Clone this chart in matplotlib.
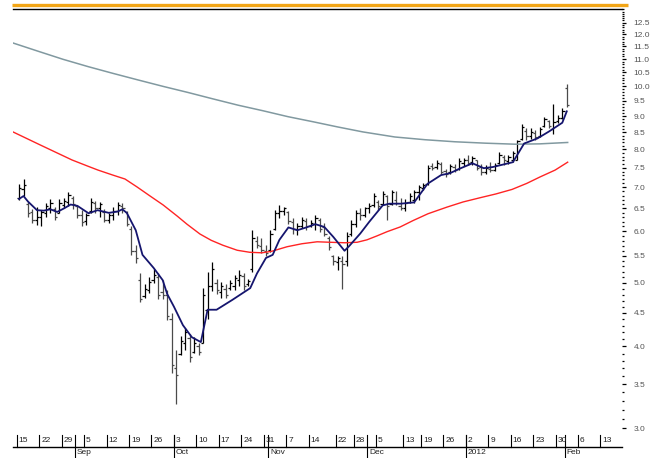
import numpy as np
import matplotlib
matplotlib.use("Agg")
import matplotlib.pyplot as plt
import matplotlib.transforms as mtransforms
from matplotlib.lines import Line2D
from matplotlib.ticker import FixedLocator, FixedFormatter, NullFormatter
from matplotlib import font_manager

names = {f.name for f in font_manager.fontManager.ttflist}
face = "Liberation Sans Narrow" if "Liberation Sans Narrow" in names else "Liberation Sans"
plt.rcParams["font.family"] = [face, "DejaVu Sans"]

# daily bars, one per weekday starting 15 Aug 2011
start = "2011-08-15"
opens = [6.75, 6.95, 6.60, 6.42, 6.25, 6.30, 6.40, 6.50, 6.48, 6.40,
         6.58, 6.65, 6.75, 6.55, 6.35, 6.22, 6.45, 6.62, 6.50, 6.42,
         6.25, 6.35, 6.45, 6.55, 6.42, 6.05, 5.60, 5.05, 4.78, 4.88,
         5.05, 5.10, 4.85, 4.80, 4.40, 3.70, 3.90, 4.05, 4.12, 3.92,
         4.00, 4.05, 4.55, 4.95, 5.00, 4.85, 4.90, 4.92, 4.95, 5.05,
         5.12, 4.98, 5.25, 5.80, 5.70, 5.60, 5.62, 6.05, 6.40, 6.45,
         6.42, 6.20, 6.05, 6.10, 6.22, 6.12, 6.15, 6.25, 6.08, 5.85,
         5.50, 5.38, 5.40, 5.40, 5.95, 6.15, 6.40, 6.35, 6.50, 6.58,
         6.65, 6.60, 6.78, 6.60, 6.70, 6.55, 6.50, 6.65, 6.70, 6.88,
         6.98, 7.08, 7.55, 7.52, 7.60, 7.42, 7.38, 7.52, 7.48, 7.62,
         7.72, 7.65, 7.70, 7.52, 7.40, 7.48, 7.45, 7.62, 7.80, 7.68,
         7.70, 7.72, 8.30, 8.55, 8.40, 8.48, 8.40, 8.70, 8.85, 8.60,
         8.85, 8.95, 9.95]
highs = [7.08, 7.20, 6.66, 6.48, 6.54, 6.46, 6.63, 6.71, 6.54, 6.71,
         6.74, 6.88, 6.79, 6.56, 6.46, 6.40, 6.74, 6.68, 6.66, 6.48,
         6.40, 6.54, 6.66, 6.62, 6.45, 6.12, 5.72, 5.17, 4.98, 5.11,
         5.26, 5.17, 5.05, 4.88, 4.50, 3.95, 4.15, 4.27, 4.18, 4.14,
         4.04, 4.91, 5.20, 5.39, 5.07, 5.01, 4.98, 5.05, 5.14, 5.23,
         5.17, 5.07, 6.03, 5.89, 5.85, 5.71, 6.02, 6.46, 6.58, 6.54,
         6.45, 6.28, 6.17, 6.31, 6.28, 6.24, 6.35, 6.28, 6.17, 5.89,
         5.52, 5.49, 5.49, 5.99, 6.24, 6.46, 6.50, 6.54, 6.62, 6.86,
         6.70, 6.90, 6.81, 6.94, 6.90, 6.74, 6.72, 6.86, 6.94, 7.06,
         7.10, 7.58, 7.64, 7.71, 7.66, 7.48, 7.61, 7.61, 7.75, 7.77,
         7.85, 7.83, 7.71, 7.61, 7.58, 7.66, 7.62, 7.94, 7.85, 7.85,
         7.96, 8.27, 8.75, 8.63, 8.63, 8.57, 8.67, 8.96, 8.87, 9.40,
         9.03, 9.25, 10.09]
lows = [6.70, 6.80, 6.31, 6.17, 6.13, 6.11, 6.31, 6.39, 6.24, 6.39,
        6.51, 6.56, 6.48, 6.28, 6.11, 6.13, 6.39, 6.39, 6.31, 6.19,
        6.17, 6.24, 6.35, 6.39, 6.10, 5.52, 5.36, 4.68, 4.74, 4.82,
        5.00, 4.73, 4.73, 4.39, 3.64, 3.27, 3.88, 3.95, 3.79, 3.91,
        3.88, 4.04, 4.40, 4.86, 4.81, 4.75, 4.74, 4.88, 4.88, 4.94,
        4.88, 4.94, 5.19, 5.65, 5.55, 5.49, 5.58, 6.02, 6.28, 6.35,
        6.15, 5.95, 5.92, 6.06, 6.02, 6.09, 6.02, 5.99, 5.89, 5.61,
        5.33, 5.23, 4.90, 5.30, 5.89, 6.09, 6.24, 6.31, 6.40, 6.54,
        6.46, 6.58, 6.24, 6.58, 6.58, 6.46, 6.44, 6.62, 6.62, 6.70,
        6.94, 7.06, 7.44, 7.48, 7.35, 7.27, 7.35, 7.40, 7.44, 7.55,
        7.57, 7.58, 7.44, 7.31, 7.35, 7.40, 7.42, 7.61, 7.57, 7.61,
        7.66, 7.71, 8.27, 8.27, 8.30, 8.27, 8.37, 8.67, 8.63, 8.46,
        8.78, 8.90, 9.30]
closes = [6.98, 7.05, 6.40, 6.25, 6.30, 6.42, 6.55, 6.62, 6.30, 6.62,
          6.68, 6.82, 6.60, 6.35, 6.20, 6.35, 6.65, 6.50, 6.60, 6.25,
          6.35, 6.45, 6.58, 6.50, 6.15, 5.60, 5.45, 4.72, 4.90, 5.02,
          5.15, 4.80, 4.80, 4.45, 3.75, 3.62, 4.08, 4.20, 3.85, 4.05,
          3.92, 4.80, 4.95, 5.25, 4.88, 4.95, 4.80, 5.00, 5.08, 5.15,
          4.95, 5.03, 5.85, 5.72, 5.62, 5.55, 5.95, 6.40, 6.45, 6.50,
          6.22, 6.05, 6.10, 6.25, 6.10, 6.18, 6.28, 6.05, 5.95, 5.68,
          5.40, 5.45, 5.35, 5.90, 6.15, 6.40, 6.35, 6.50, 6.55, 6.80,
          6.55, 6.85, 6.55, 6.88, 6.62, 6.50, 6.62, 6.80, 6.88, 7.00,
          7.05, 7.50, 7.50, 7.62, 7.40, 7.35, 7.55, 7.45, 7.68, 7.70,
          7.62, 7.75, 7.50, 7.40, 7.50, 7.45, 7.58, 7.85, 7.70, 7.78,
          7.90, 8.25, 8.65, 8.40, 8.50, 8.35, 8.60, 8.90, 8.70, 8.80,
          8.95, 9.15, 9.35]

# moving averages (x = sessions since start)
fast_at = [0, 1, 2, 4, 5.5, 7, 8.5, 10, 11.5, 13, 15.5, 17.5, 20, 22, 23, 24,
           26, 27.5, 30, 32, 33, 34.5, 36.5, 38.5, 40.5, 42, 44, 47.5, 51.5,
           53, 55, 56.5, 58, 60, 62, 64, 66, 68, 70, 72.5, 73.5, 76, 78, 81,
           82.5, 85, 88, 91, 94, 96, 98, 101, 103.5, 105.5, 110, 112.5, 115.5,
           118, 121, 122]
fast = [6.72, 6.79, 6.66, 6.46, 6.45, 6.48, 6.42, 6.50, 6.59, 6.56, 6.39,
        6.46, 6.40, 6.43, 6.48, 6.40, 6.02, 5.52, 5.27, 5.05, 4.81, 4.60,
        4.31, 4.13, 4.06, 4.55, 4.55, 4.71, 4.91, 5.17, 5.46, 5.52, 5.82,
        6.08, 6.02, 6.08, 6.15, 6.09, 5.88, 5.60, 5.69, 5.95, 6.20, 6.57,
        6.61, 6.61, 6.64, 7.09, 7.31, 7.36, 7.47, 7.62, 7.49, 7.52, 7.65,
        8.17, 8.32, 8.52, 8.79, 9.15]
mid_at = [-1.34, 4.7, 11.8, 15.4, 17.6, 20.9, 23.6, 26.3, 29.2, 32.1, 35.2,
          37.4, 40.3, 42.8, 45.4, 48.6, 51.4, 54.1, 56.3, 59.7, 63.0, 66.4,
          69.3, 72.6, 75.3, 77.5, 79.7, 82.0, 84.9, 87.8, 91.1, 95.3, 98.9,
          102.7, 106.2, 109.8, 113.1, 116.0, 119.4, 122.2]
mid = [8.51, 8.13, 7.71, 7.54, 7.44, 7.31, 7.21, 7.01, 6.79, 6.58, 6.33,
       6.15, 5.94, 5.81, 5.71, 5.61, 5.57, 5.56, 5.59, 5.68, 5.74, 5.78,
       5.77, 5.76, 5.77, 5.82, 5.90, 5.99, 6.09, 6.23, 6.38, 6.53, 6.65,
       6.75, 6.84, 6.95, 7.10, 7.26, 7.44, 7.65]
slow_at = [-1.34, 4.2, 9.8, 15.4, 20.9, 26.5, 32.1, 37.6, 43.2, 48.8, 54.3,
           59.9, 65.5, 71.0, 76.6, 83.7, 90.4, 97.1, 103.8, 110.5, 116.0, 122.2]
slow = [11.64, 11.31, 10.99, 10.71, 10.46, 10.22, 9.99, 9.78, 9.56, 9.35,
        9.17, 8.98, 8.82, 8.66, 8.51, 8.36, 8.28, 8.22, 8.18, 8.15, 8.16, 8.20]

week_dates = ["2011-08-15", "2011-08-22", "2011-08-29", "2011-09-05", "2011-09-12",
              "2011-09-19", "2011-09-26", "2011-10-03", "2011-10-10", "2011-10-17",
              "2011-10-24", "2011-10-31", "2011-11-07", "2011-11-14", "2011-11-22",
              "2011-11-28", "2011-12-05", "2011-12-13", "2011-12-19", "2011-12-26",
              "2012-01-02", "2012-01-09", "2012-01-16", "2012-01-23", "2012-01-30",
              "2012-02-06", "2012-02-13"]
month_dates = ["2011-09-01", "2011-10-03", "2011-11-01", "2011-12-01", "2012-01-02", "2012-02-01"]
month_labels = ["Sep", "Oct", "Nov", "Dec", "2012", "Feb"]
price_ticks = [3.0, 3.5, 4.0, 4.5, 5.0, 5.5, 6.0, 6.5, 7.0, 7.5, 8.0, 8.5,
               9.0, 9.5, 10.0, 10.5, 11.0, 11.5, 12.0, 12.5]

W, H = 658, 458
fig = plt.figure(figsize=(W / 100, H / 100), dpi=100)
ax = fig.add_axes([13 / W, 1 - 435 / H, (622 - 13) / W, (435 - 9) / H])

x = np.arange(len(closes))
o, c = np.array(opens), np.array(closes)
col = np.where(c < o, "#4a4a4a", "#000000")
ax.vlines(x, lows, highs, colors=col, lw=0.9)
ax.hlines(opens, x - 0.5, x, colors=col, lw=0.9)
ax.hlines(closes, x, x + 0.5, colors=col, lw=0.9)

ax.plot(slow_at, slow, color="#8199a0", lw=1.1, solid_joinstyle="round")
ax.plot(mid_at, mid, color="#ff2424", lw=1.0, solid_joinstyle="round")
ax.plot(fast_at, fast, color="#15156e", lw=1.3, solid_joinstyle="round")

# price axis on the right, log scale
ax.set_yscale("log")
ax.set_ylim(2.927, 13.12)
ax.set_xlim(-1.34, 134.3)
ax.yaxis.tick_right()
ax.yaxis.set_major_locator(FixedLocator(price_ticks))
ax.yaxis.set_major_formatter(FixedFormatter([f"{v:.1f}" for v in price_ticks]))
ax.yaxis.set_minor_locator(FixedLocator(np.round(np.arange(2.9, 13.15, 0.1), 1)))
ax.yaxis.set_minor_formatter(NullFormatter())
ax.tick_params(axis="y", which="major", direction="out", length=3.2, width=0.9,
               pad=5, labelsize=6, labelcolor="#555555")
ax.tick_params(axis="y", which="minor", direction="out", length=1.5, width=0.9)
ax.set_xticks([])
for side in ("left", "bottom", "right"):
    ax.spines[side].set_visible(False)
ax.spines["top"].set_linewidth(1.0)

# two-row date axis under the plot
trans = mtransforms.blended_transform_factory(ax.transData, fig.transFigure)
txt = mtransforms.offset_copy(trans, fig=fig, x=2, y=0, units="dots")
row1_top, row1_bot, row2_bot = 1 - 435 / H, 1 - 447 / H, 0.0
for d in week_dates:
    s = np.busday_count(start, d) - 0.5
    ax.add_line(Line2D([s, s], [row1_top, row1_bot], transform=trans,
                       color="black", lw=0.8, clip_on=False))
    ax.text(s, (row1_top + row1_bot) / 2, str(int(d[-2:])), transform=txt,
            ha="left", va="center", fontsize=6, color="#222222", clip_on=False)
for d, lab in zip(month_dates, month_labels):
    s = np.busday_count(start, d) - 0.5
    ax.add_line(Line2D([s, s], [row1_top, row2_bot], transform=trans,
                       color="black", lw=0.8, clip_on=False))
    ax.text(s, (row1_bot + row2_bot) / 2, lab, transform=txt,
            ha="left", va="center", fontsize=6, color="#222222", clip_on=False)
fig.add_artist(Line2D([13 / W, 622 / W], [row1_bot, row1_bot], color="black", lw=1.0))

# orange band across the top
fig.add_artist(Line2D([12 / W, 628 / W], [1 - 4.5 / H] * 2, color="#f2a516",
                      lw=2.4, solid_capstyle="butt"))

fig.savefig("out.png", dpi=100)
